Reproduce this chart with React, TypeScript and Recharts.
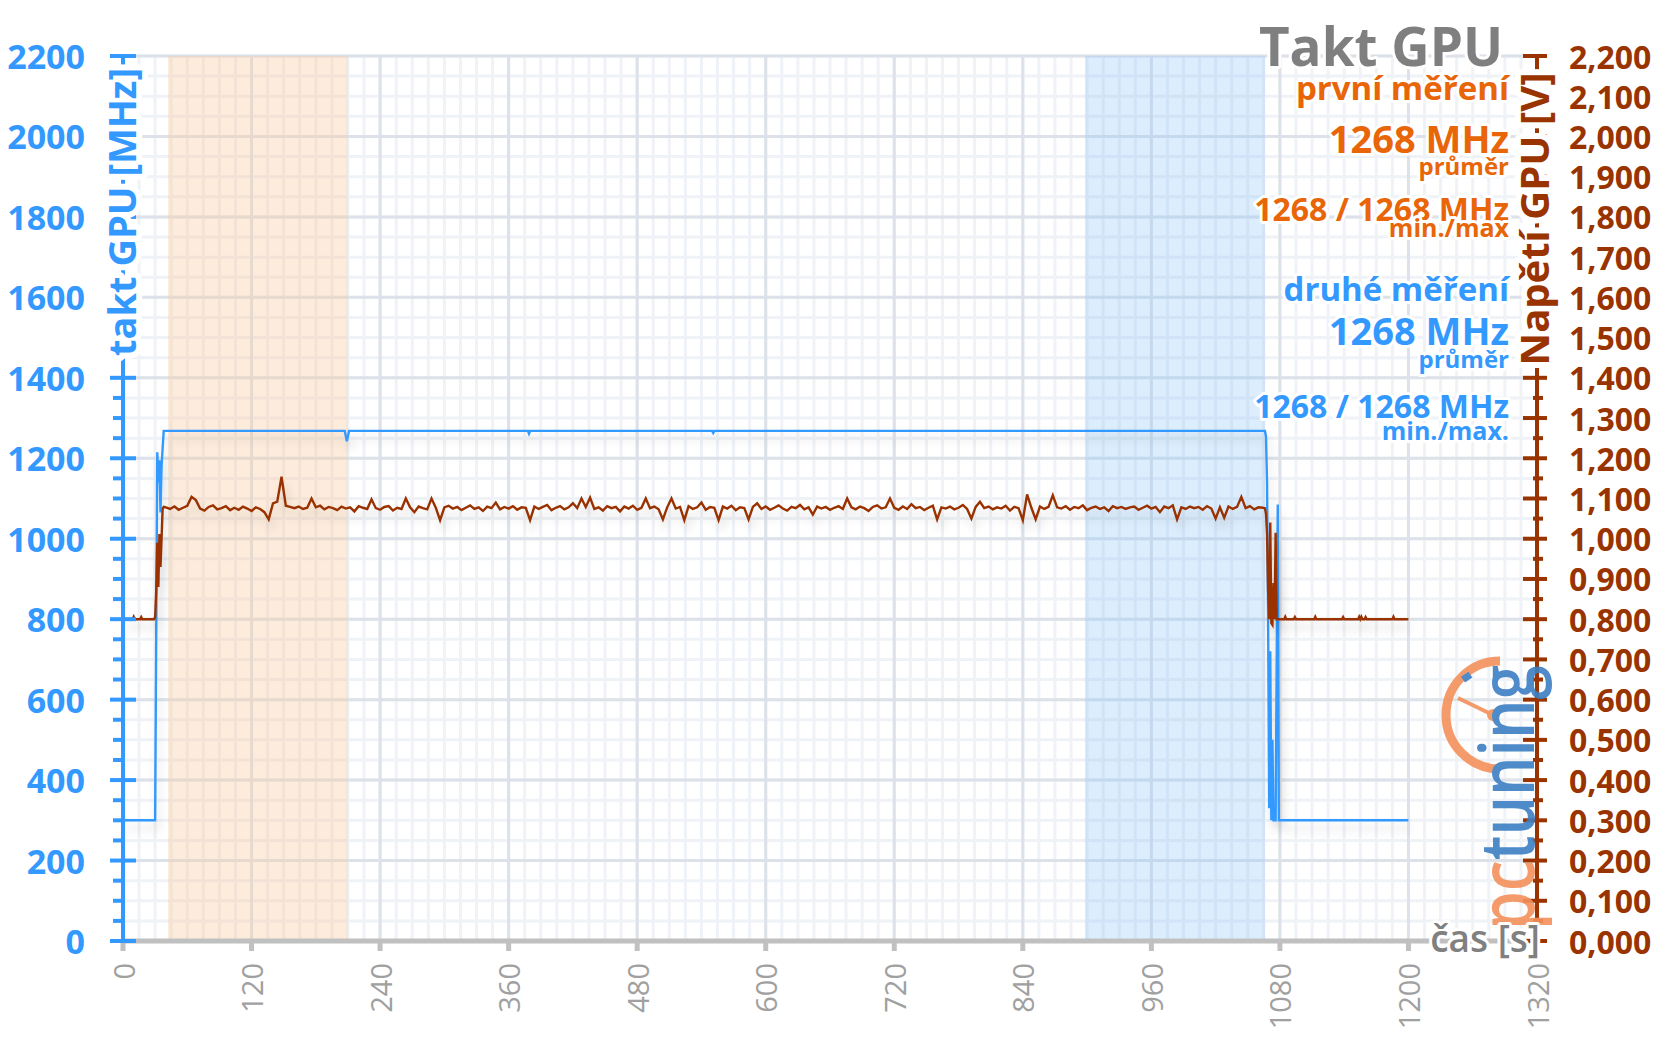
import { ComposedChart, Line, XAxis, YAxis, CartesianGrid, ReferenceArea } from "recharts";

const W = 1656;
const H = 1044;
const FONT = '"Open Sans", "Noto Sans", sans-serif';
const BLUE = "#3399ff";
const BROWN = "#993300";
const ORANGE = "#e86508";
const GRAY = "#808080";

// time axis [s]
const timeTicks = [0, 120, 240, 360, 480, 600, 720, 840, 960, 1080, 1200, 1320];
const minorTimeGrid = Array.from({ length: 89 }, (_, i) => i * 15);

// highlighted windows [s]
const firstRun = [42, 210];
const secondRun = [898, 1066];

// GPU clock [MHz] — breakpoints of the trace
const clockT = [0, 30, 31, 32, 33, 34, 35, 36, 37, 38, 207, 209, 211, 378, 379, 380, 550, 551, 552,
  1066, 1067, 1068, 1069, 1070, 1071, 1072, 1073, 1074, 1075, 1076, 1077, 1078, 1079, 1200];
const clockMHz = [300, 300, 760, 1215, 1140, 1195, 1065, 1180, 1225, 1268, 1268, 1242, 1268, 1268, 1261, 1268, 1268, 1263, 1268,
  1268, 1255, 1140, 780, 330, 720, 300, 500, 300, 300, 300, 700, 1085, 300, 300];

// GPU voltage [mV] — idle + load start
const voltStartT = [0, 9, 10, 11, 16, 17, 18, 29, 30, 31, 32, 33, 34, 35, 36, 37, 38];
const voltStartMV = [800, 800, 806, 800, 800, 805, 800, 800, 805, 870, 990, 880, 1012, 930, 1000, 1075, 1079];

// GPU voltage [mV] under load, one reading every 4 s from 40 s
const PLATEAU_T0 = 40;
const PLATEAU_STEP = 4;
const voltPlateauMV = [
  1078, 1074, 1080, 1072, 1077, 1082, 1104, 1096, 1075, 1070, 1079, 1083, 1073, 1076, 1081, 1071, // 40
  1077, 1072, 1080, 1075, 1069, 1078, 1074, 1066, 1048, 1088, 1092, 1154, 1082, 1079, 1076, 1080, // 104
  1074, 1077, 1100, 1078, 1082, 1073, 1079, 1076, 1071, 1080, 1075, 1078, 1068, 1081, 1077, 1074, // 168
  1098, 1076, 1072, 1079, 1081, 1070, 1077, 1074, 1100, 1078, 1066, 1080, 1076, 1073, 1100, 1077, // 232
  1046, 1078, 1082, 1075, 1079, 1071, 1077, 1083, 1074, 1078, 1069, 1080, 1076, 1090, 1073, 1079, // 296
  1075, 1081, 1072, 1078, 1077, 1046, 1080, 1074, 1079, 1084, 1071, 1077, 1081, 1073, 1078, 1088, // 360
  1076, 1100, 1079, 1102, 1074, 1078, 1070, 1081, 1076, 1079, 1068, 1080, 1075, 1082, 1072, 1077, // 424
  1100, 1076, 1080, 1073, 1048, 1078, 1100, 1075, 1079, 1046, 1081, 1074, 1078, 1090, 1072, 1079, // 488
  1077, 1046, 1080, 1075, 1082, 1071, 1078, 1076, 1048, 1079, 1088, 1074, 1080, 1072, 1077, 1083, // 552
  1075, 1070, 1079, 1076, 1084, 1073, 1078, 1060, 1080, 1075, 1079, 1072, 1077, 1081, 1074, 1100, // 616
  1078, 1073, 1080, 1076, 1069, 1079, 1083, 1075, 1078, 1100, 1077, 1072, 1080, 1074, 1086, 1076, // 680
  1079, 1071, 1077, 1082, 1048, 1078, 1075, 1080, 1073, 1077, 1084, 1074, 1050, 1079, 1092, 1076, // 744
  1080, 1073, 1078, 1075, 1082, 1070, 1079, 1076, 1046, 1110, 1077, 1048, 1080, 1074, 1079, 1108, // 808
  1078, 1075, 1081, 1072, 1079, 1076, 1083, 1071, 1077, 1080, 1074, 1078, 1069, 1081, 1076, 1079, // 872
  1074, 1078, 1080, 1072, 1077, 1082, 1075, 1079, 1066, 1080, 1076, 1083, 1048, 1078, 1074, 1080, // 936
  1076, 1079, 1072, 1081, 1075, 1050, 1078, 1052, 1080, 1074, 1079, 1104, 1076, 1081, 1073, 1078, // 1000
  1077, // 1064
];

// GPU voltage [mV] — load end + idle
const voltEndT = [1066, 1067, 1068, 1069, 1070, 1071, 1072, 1073, 1074, 1075, 1076, 1077, 1084, 1085, 1086,
  1093, 1094, 1095, 1112, 1113, 1114, 1138, 1139, 1140, 1153, 1154, 1155, 1156, 1157, 1159, 1160, 1161,
  1185, 1186, 1187, 1200];
const voltEndMV = [1076, 1062, 1010, 870, 800, 1040, 790, 786, 890, 800, 1015, 800, 800, 806, 800,
  800, 805, 800, 800, 806, 800, 800, 805, 800, 800, 806, 800, 806, 800, 800, 805, 800,
  800, 806, 800, 800];

const clockData = clockT.map((t, i) => ({ t, mhz: clockMHz[i] }));
const voltData = [
  ...voltStartT.map((t, i) => ({ t, v: voltStartMV[i] / 1000 })),
  ...voltPlateauMV.map((mv, i) => ({ t: PLATEAU_T0 + i * PLATEAU_STEP, v: mv / 1000 })),
  ...voltEndT.map((t, i) => ({ t, v: voltEndMV[i] / 1000 })),
];

const mhzTicks = Array.from({ length: 45 }, (_, i) => i * 50);
const mhzMajor = mhzTicks.filter((v) => v % 200 === 0);
const voltTicks = Array.from({ length: 45 }, (_, i) => (i * 50) / 1000);

const halo = { stroke: "#fff", strokeWidth: 6, paintOrder: "stroke" as const, strokeLinejoin: "round" as const };
const bigHalo = { ...halo, strokeWidth: 12 };

// eslint-disable-next-line @typescript-eslint/no-explicit-any
function LeftTick({ x, y, payload }: any) {
  const v = payload.value;
  const major = v % 200 === 0;
  return (
    <g>
      <rect x={major ? x - 13 : x - 10} y={y - 2} width={major ? 26 : 10} height={4} fill={BLUE} />
      {major && (
        <text x={x - 38} y={y} textAnchor="end" dominantBaseline="central" fontSize={34} fontWeight={700} fill={BLUE} fontFamily={FONT}>
          {v}
        </text>
      )}
    </g>
  );
}

// eslint-disable-next-line @typescript-eslint/no-explicit-any
function RightTick({ x, y, payload }: any) {
  const mv = Math.round(payload.value * 1000);
  const major = mv % 100 === 0;
  return (
    <g>
      <rect x={major ? x - 14 : x - 4} y={y - 2} width={major ? 24 : 10} height={4} fill={BROWN} />
      {major && (
        <text x={x + 32} y={y} textAnchor="start" dominantBaseline="central" fontSize={32} fontWeight={700} fill={BROWN} fontFamily={FONT}>
          {(mv / 1000).toFixed(3).replace(".", ",")}
        </text>
      )}
    </g>
  );
}

// eslint-disable-next-line @typescript-eslint/no-explicit-any
function TimeTick({ x, y, payload }: any) {
  return (
    <g>
      <rect x={x - 2.5} y={y} width={5} height={10} fill="#c0c0c0" />
      <text
        transform={`translate(${x},${y + 22}) rotate(-90)`}
        textAnchor="end"
        dominantBaseline="central"
        fontSize={29}
        fill="#a0a0a0"
        fontFamily={FONT}
      >
        {payload.value}
      </text>
    </g>
  );
}

function Overlay() {
  const t = (txt: string, y: number, size: number, color: string, x = 1509) => (
    <text x={x} y={y} textAnchor="end" fontSize={size} fontWeight={700} fill={color} fontFamily={FONT} style={halo}>
      {txt}
    </text>
  );
  return (
    <svg width={W} height={H} style={{ position: "absolute", left: 0, top: 0, pointerEvents: "none" }}>
      <defs>
        <filter id="lineShadow" x="-5%" y="-20%" width="110%" height="140%">
          <feDropShadow dx="3" dy="8" stdDeviation="5" floodColor="#000" floodOpacity="0.14" />
        </filter>
      </defs>

      {/* logo */}
      <g opacity={0.9}>
        <path d="M1500 661 A54 54 0 1 0 1500 769" fill="none" stroke="#f4915c" strokeWidth={9} />
        <line x1={1493} y1={715} x2={1458} y2={698} stroke="#f4915c" strokeWidth={4} />
        <circle cx={1493} cy={715} r={6} fill="#f4915c" />
        <rect x={1462} y={674} width={9} height={7} fill="#3d7fc4" transform="rotate(-35 1466 677)" />
        <text transform="translate(1534,930) rotate(-90) scale(0.82,1)" fontSize={76} fontWeight={600} fontFamily={FONT}>
          <tspan fill="#f4915c">pc</tspan>
          <tspan fill="#3d7fc4">tuning</tspan>
        </text>
      </g>

      {/* axis titles */}
      <text transform="translate(121,212) rotate(-90)" textAnchor="middle" dominantBaseline="central" fontSize={38} fontWeight={700} fill={BLUE} fontFamily={FONT} style={bigHalo}>
        takt GPU [MHz]
      </text>
      <text transform="translate(1533,219) rotate(-90)" textAnchor="middle" dominantBaseline="central" fontSize={40} fontWeight={700} fill={BROWN} fontFamily={FONT} style={bigHalo}>
        Napětí GPU [V]
      </text>
      <text x={1540} y={952} textAnchor="end" fontSize={37} fontWeight={600} fill={GRAY} fontFamily={FONT} style={halo}>
        čas [s]
      </text>

      {/* legend block */}
      {t("Takt GPU", 66, 53, "#7f7f7f", 1503)}
      {t("první měření", 100, 33, ORANGE)}
      {t("1268 MHz", 153, 38, ORANGE)}
      {t("průměr", 175, 24, ORANGE)}
      {t("1268 / 1268 MHz", 221, 32, ORANGE)}
      {t("min./max", 237, 25, ORANGE)}
      {t("druhé měření", 301, 33, BLUE)}
      {t("1268 MHz", 345, 38, BLUE)}
      {t("průměr", 368, 24, BLUE)}
      {t("1268 / 1268 MHz", 418, 32, BLUE)}
      {t("min./max.", 440, 25, BLUE)}
    </svg>
  );
}

export default function App() {
  return (
    <div style={{ position: "absolute", left: 0, top: 0, width: W, height: H, background: "#fff", fontFamily: FONT }}>
      <ComposedChart width={W} height={H} margin={{ top: 56, right: 0, bottom: 0, left: 0 }}>
        <CartesianGrid
          horizontalValues={mhzTicks}
          verticalValues={minorTimeGrid}
          stroke="#eff2f6"
          strokeWidth={3}
        />
        <CartesianGrid
          horizontalValues={mhzMajor}
          verticalValues={timeTicks}
          stroke="#dde2ea"
          strokeWidth={3}
        />
        <ReferenceArea x1={firstRun[0]} x2={firstRun[1]} fill="#f9c89a" fillOpacity={0.35} stroke="none" />
        <ReferenceArea x1={secondRun[0]} x2={secondRun[1]} fill="#8cc4f8" fillOpacity={0.3} stroke="none" />
        <XAxis
          type="number"
          dataKey="t"
          domain={[0, 1320]}
          ticks={timeTicks}
          interval={0}
          height={103}
          tickSize={0}
          tickMargin={0}
          tickLine={false}
          axisLine={{ stroke: "#c0c0c0", strokeWidth: 5 }}
          tick={<TimeTick />}
          allowDataOverflow
        />
        <YAxis
          yAxisId={0}
          type="number"
          domain={[0, 2200]}
          ticks={mhzTicks}
          interval={0}
          width={123}
          tickSize={0}
          tickMargin={0}
          tickLine={false}
          axisLine={{ stroke: BLUE, strokeWidth: 4 }}
          tick={<LeftTick />}
        />
        <YAxis
          yAxisId="v"
          orientation="right"
          type="number"
          domain={[0, 2.2]}
          ticks={voltTicks}
          interval={0}
          width={119}
          tickSize={0}
          tickMargin={0}
          tickLine={false}
          axisLine={{ stroke: BROWN, strokeWidth: 4 }}
          tick={<RightTick />}
        />
        <Line
          data={clockData}
          dataKey="mhz"
          yAxisId={0}
          type="linear"
          stroke={BLUE}
          strokeWidth={2.4}
          dot={false}
          activeDot={false}
          isAnimationActive={false}
          filter="url(#lineShadow)"
        />
        <Line
          data={voltData}
          dataKey="v"
          yAxisId="v"
          type="linear"
          stroke={BROWN}
          strokeWidth={2.4}
          dot={false}
          activeDot={false}
          isAnimationActive={false}
          filter="url(#lineShadow)"
        />
      </ComposedChart>
      <Overlay />
    </div>
  );
}
